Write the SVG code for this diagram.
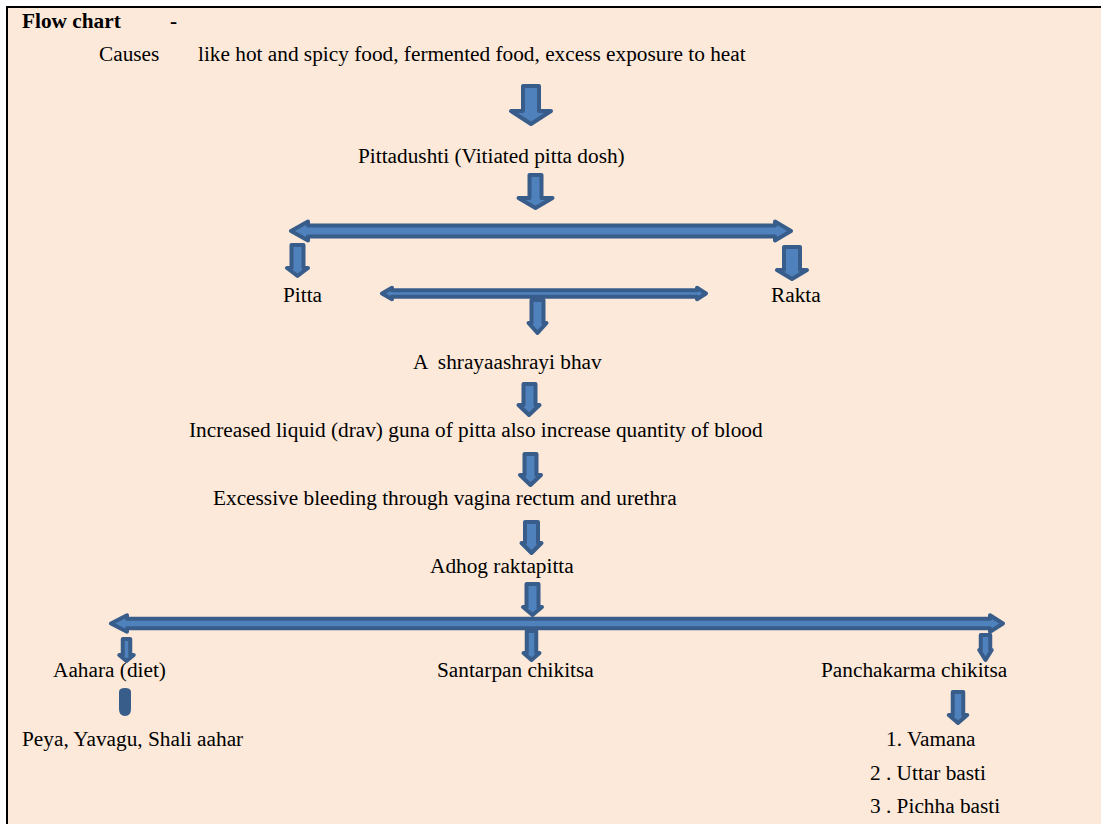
<svg xmlns="http://www.w3.org/2000/svg" width="1101" height="824" viewBox="0 0 1101 824">
<style>
.t{font-family:"Liberation Serif","Times New Roman",serif;font-size:21.3px;fill:#000}
.b{font-weight:bold}
.a{fill:#4F81BD;stroke:#385D8A;stroke-width:4;stroke-linejoin:round}
</style>
<rect x="0" y="0" width="1101" height="824" fill="#ffffff"/>
<rect x="7" y="7" width="1110" height="830" fill="#FDE9D9" stroke="#000" stroke-width="2"/>
<g id="title"><text class="t b" x="22" y="28">Flow chart</text><text class="t b" x="170" y="28">-</text></g>
<g id="causes"><text class="t" x="99" y="61">Causes</text><text class="t" x="198" y="61">like hot and spicy food, fermented food, excess exposure to heat</text></g>
<g id="pittadushti"><text class="t" x="358" y="163">Pittadushti (Vitiated pitta dosh)</text></g>
<g id="pitta"><text class="t" x="283" y="302">Pitta</text></g>
<g id="rakta"><text class="t" x="771" y="302">Rakta</text></g>
<g id="ashraya"><text class="t" x="413" y="369" xml:space="preserve">A  shrayaashrayi bhav</text></g>
<g id="increased"><text class="t" x="189" y="437">Increased liquid (drav) guna of pitta also increase quantity of blood</text></g>
<g id="excessive"><text class="t" x="213" y="505">Excessive bleeding through vagina rectum and urethra</text></g>
<g id="adhog"><text class="t" x="430" y="573">Adhog raktapitta</text></g>
<g id="aahara"><text class="t" x="53" y="677">Aahara (diet)</text></g>
<g id="santarpan"><text class="t" x="437" y="677">Santarpan chikitsa</text></g>
<g id="panchakarma"><text class="t" x="821" y="677">Panchakarma chikitsa</text></g>
<g id="peya"><text class="t" x="22" y="746">Peya, Yavagu, Shali aahar</text></g>
<g id="vamana"><text class="t" x="886" y="746">1. Vamana</text></g>
<g id="uttar"><text class="t" x="870" y="780">2 . Uttar basti</text></g>
<g id="pichha"><text class="t" x="870" y="813">3 . Pichha basti</text></g>
<g id="connectors">
<path class="a" d="M523,86 H539 V111 H551 L531,124 L511,111 H523 Z"/>
<path class="a" d="M529.5,175 H541.5 V198 H552.5 L535.5,208 L518.5,198 H529.5 Z"/>
<path class="a" d="M291,231 L308,221.5 V225.5 H775 V221.5 L791,231 L775,240.5 V236.5 H308 V240.5 Z"/>
<path class="a" d="M291.5,245 H303.5 V268 H308 L297.5,276 L287,268 H291.5 Z"/>
<path class="a" d="M784,247 H800 V270 H807 L792,279 L777,270 H784 Z"/>
<path class="a" d="M382,293.5 L392,287.75 V290.25 H697 V287.75 L706,293.5 L697,299.25 V296.75 H392 V299.25 Z"/>
<path class="a" d="M531.5,300 H543.5 V323 H546.5 L537.5,333 L528.5,323 H531.5 Z"/>
<path class="a" d="M523.5,384 H535.5 V405 H539.5 L529,415 L518.5,405 H523.5 Z"/>
<path class="a" d="M524.5,454 H536.5 V475 H541 L530.5,485 L520,475 H524.5 Z"/>
<path class="a" d="M525,522 H538 V543 H541.5 L531.5,553 L521.5,543 H525 Z"/>
<path class="a" d="M526.5,584 H538.5 V607 H542 L532.5,615 L523,607 H526.5 Z"/>
<path class="a" d="M111,623.5 L127,615.25 V618.75 H990 V615.25 L1003,623.5 L990,631.75 V628.25 H127 V631.75 Z"/>
<path class="a" d="M122.75,639 H130.25 V655 H133.75 L126.5,661 L119.25,655 H122.75 Z"/>
<path class="a" d="M526.75,631 H536.25 V653 H539.5 L531.5,660 L523.5,653 H526.75 Z"/>
<path class="a" d="M980.75,635 H990.25 V650 H991.75 L985.5,660 L979.25,650 H980.75 Z"/>
<path class="a" d="M121,692 Q121,690 125,690 Q129,690 129,692 V709 Q129,714 125,714 Q121,714 121,709 Z" style="fill:#385D8A"/>
<path class="a" d="M952.75,692 H963.25 V715 H967.25 L958,723 L948.75,715 H952.75 Z"/>
</g>
</svg>
